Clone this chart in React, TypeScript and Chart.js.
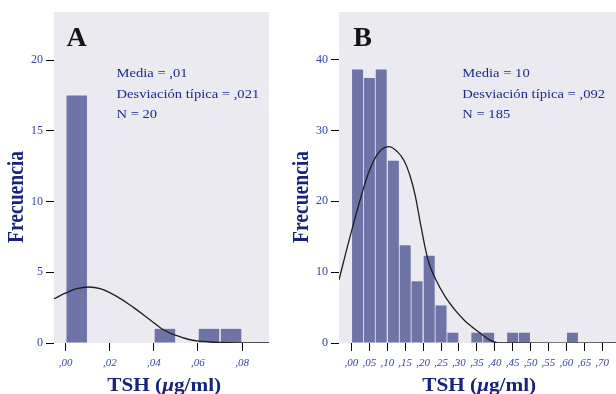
import React, { useEffect, useRef } from 'react';
import { Chart, registerables } from 'chart.js';

Chart.register(...registerables);

// ---------- Panel A data ----------
const binCentersA = [0.005, 0.045, 0.065, 0.075];
const countsA = [17.5, 1, 1, 1];
const curveXA = [-0.0053, 0.0001, 0.005, 0.0103, 0.0156, 0.0231, 0.0307, 0.0382, 0.0443, 0.0504, 0.0564, 0.0624, 0.0655, 0.0745, 0.0836, 0.0922];
const curveYA = [3.13, 3.54, 3.84, 3.96, 3.84, 3.3, 2.52, 1.65, 0.94, 0.52, 0.23, 0.11, 0.07, 0.02, 0, 0];
const xTicksA = [0, 0.02, 0.04, 0.06, 0.08];
const yTicksA = [0, 5, 10, 15, 20];
const statsA = ['Media = ,01', 'Desviación típica = ,021', 'N = 20'];

// ---------- Panel B data ----------
const binCentersB = [0.017, 0.05, 0.083, 0.117, 0.15, 0.183, 0.217, 0.25, 0.283, 0.35, 0.383, 0.45, 0.483, 0.617];
const countsB = [38.6, 37.4, 38.6, 25.7, 13.8, 8.7, 12.3, 5.3, 1.45, 1.45, 1.45, 1.45, 1.45, 1.45];
const curveXB = [-0.035, -0.004, 0.027, 0.05, 0.075, 0.103, 0.128, 0.148, 0.164, 0.178, 0.195, 0.215, 0.234, 0.262, 0.29, 0.317, 0.331, 0.359, 0.387, 0.406, 0.45, 0.74];
const curveYB = [8.9, 15.0, 20.7, 24.3, 26.8, 27.7, 27.0, 25.6, 23.5, 20.8, 16.2, 11.5, 9.1, 6.5, 4.6, 3.1, 2.5, 1.4, 0.4, 0.05, 0, 0];
const xTicksB = [0, 0.05, 0.1, 0.15, 0.2, 0.25, 0.3, 0.35, 0.4, 0.45, 0.5, 0.55, 0.6, 0.65, 0.7];
const yTicksB = [0, 10, 20, 30, 40];
const statsB = ['Media = 10', 'Desviación típica = ,092', 'N = 185'];

const yTitle = 'Frecuencia';
const xTitleParts = ['TSH (', 'μ', 'g/ml)'];

const SERIF = '"Liberation Serif", "Times New Roman", serif';
const BG = '#ebeaf0';
const BAR = '#6f74a6';
const LINE = '#1e1e1e';
const TICK_TXT = '#3444a2';
const STAT_TXT = '#1d2b8d';
const TITLE_TXT = '#17237c';

const bgPlugin = {
  id: 'panelBg',
  beforeDraw(chart: any) {
    const { ctx, chartArea } = chart;
    ctx.save();
    ctx.fillStyle = BG;
    ctx.fillRect(chartArea.left, chartArea.top, chartArea.right - chartArea.left, chartArea.bottom - chartArea.top);
    ctx.restore();
  },
};

const textPlugin = {
  id: 'panelText',
  afterDraw(chart: any, _args: any, p: any) {
    const ctx = chart.ctx;
    ctx.save();
    ctx.textAlign = 'left';
    ctx.textBaseline = 'alphabetic';
    // panel letter
    ctx.fillStyle = '#151515';
    ctx.font = `bold 28px ${SERIF}`;
    ctx.fillText(p.letter, p.letterX, p.letterY);
    // stats
    ctx.fillStyle = STAT_TXT;
    ctx.font = `12.8px ${SERIF}`;
    p.stats.forEach((s: string, i: number) => {
      ctx.save();
      ctx.translate(p.statsX, p.statsY + i * 20.5);
      ctx.scale(1.14, 1);
      ctx.fillText(s, 0, 0);
      ctx.restore();
    });
    // y title
    ctx.save();
    ctx.fillStyle = TITLE_TXT;
    ctx.font = `bold 19.6px ${SERIF}`;
    ctx.translate(p.yTitleX, p.yTitleY);
    ctx.scale(1.15, 1);
    ctx.rotate(-Math.PI / 2);
    ctx.textAlign = 'center';
    ctx.fillText(yTitle, 0, 0);
    ctx.restore();
    // x title with italic mu
    ctx.save();
    ctx.fillStyle = TITLE_TXT;
    const fB = `bold 19.5px ${SERIF}`;
    const fI = `italic bold 19.5px ${SERIF}`;
    ctx.font = fB;
    const w1 = ctx.measureText(xTitleParts[0]).width;
    const w3 = ctx.measureText(xTitleParts[2]).width;
    ctx.font = fI;
    const w2 = ctx.measureText(xTitleParts[1]).width;
    const total = w1 + w2 + w3;
    ctx.translate(p.xTitleX, p.xTitleY);
    ctx.scale(1.09, 1);
    let x = -total / 2;
    ctx.font = fB;
    ctx.fillText(xTitleParts[0], x, 0);
    x += w1;
    ctx.font = fI;
    ctx.fillText(xTitleParts[1], x, 0);
    x += w2;
    ctx.font = fB;
    ctx.fillText(xTitleParts[2], x, 0);
    ctx.restore();
    ctx.restore();
  },
};

const fmtX = (v: any) => {
  const s = Number(v).toFixed(2);
  return (s.startsWith('0') ? s.slice(1) : s).replace('.', ',');
};

type PanelCfg = {
  left: number; width: number; yWidth: number; padTop: number; padRight: number;
  xMin: number; xMax: number; yMax: number;
  bins: number[]; counts: number[]; cx: number[]; cy: number[];
  xTicks: number[]; yTicks: number[];
  text: any;
};

const panels: PanelCfg[] = [
  {
    left: 0, width: 290, yWidth: 54, padTop: 12, padRight: 21,
    xMin: -0.0053, xMax: 0.0922, yMax: 23.4,
    bins: binCentersA, counts: countsA, cx: curveXA, cy: curveYA,
    xTicks: xTicksA, yTicks: yTicksA,
    text: { letter: 'A', letterX: 66.5, letterY: 46, stats: statsA, statsX: 116.5, statsY: 77, yTitleX: 23.3, yTitleY: 197, xTitleX: 164.2, xTitleY: 391 },
  },
  {
    left: 290, width: 326, yWidth: 49, padTop: 12, padRight: 0,
    xMin: -0.0349, xMax: 0.7386, yMax: 46.7,
    bins: binCentersB, counts: countsB, cx: curveXB, cy: curveYB,
    xTicks: xTicksB, yTicks: yTicksB,
    text: { letter: 'B', letterX: 63.3, letterY: 46, stats: statsB, statsX: 172.3, statsY: 77, yTitleX: 18.3, yTitleY: 197, xTitleX: 189.2, xTitleY: 391 },
  },
];

function Panel({ cfg }: { cfg: PanelCfg }) {
  const ref = useRef<HTMLCanvasElement | null>(null);
  useEffect(() => {
    if (!ref.current) return;
    const chart = new Chart(ref.current, {
      type: 'bar',
      data: {
        datasets: [
          {
            type: 'line',
            data: cfg.cx.map((x, i) => ({ x, y: cfg.cy[i] })),
            borderColor: LINE,
            borderWidth: 1.3,
            pointRadius: 0,
            fill: false,
            tension: 0.4,
            order: 1,
          } as any,
          {
            type: 'bar',
            data: cfg.bins.map((x, i) => ({ x, y: cfg.counts[i] })),
            backgroundColor: BAR,
            borderWidth: 0,
            barPercentage: 0.93,
            categoryPercentage: 1,
            order: 2,
          } as any,
        ],
      },
      options: {
        responsive: false,
        animation: false,
        layout: { padding: { top: cfg.padTop, right: cfg.padRight, left: 0, bottom: 0 } },
        plugins: {
          legend: { display: false },
          tooltip: { enabled: false },
          panelText: cfg.text,
        } as any,
        scales: {
          x: {
            type: 'linear',
            min: cfg.xMin,
            max: cfg.xMax,
            offset: false,
            grid: { display: true, offset: false, drawOnChartArea: false, drawTicks: true, tickLength: 8, color: '#000', tickColor: '#000', tickWidth: 1 },
            border: { display: false },
            afterBuildTicks: (s: any) => { s.ticks = cfg.xTicks.map((v) => ({ value: v })); },
            afterFit: (s: any) => { s.height = 51; s.paddingLeft = 0; s.paddingRight = 0; },
            ticks: {
              autoSkip: false, maxRotation: 0, minRotation: 0, padding: 6,
              color: TICK_TXT,
              font: { family: SERIF, size: 11, style: 'italic' },
              callback: (v: any) => fmtX(v),
            },
          } as any,
          y: {
            type: 'linear',
            min: 0,
            max: cfg.yMax,
            grid: { display: true, drawOnChartArea: false, drawTicks: true, tickLength: 8, color: '#000', tickColor: '#000', tickWidth: 1 },
            border: { display: false },
            afterBuildTicks: (s: any) => { s.ticks = cfg.yTicks.map((v) => ({ value: v })); },
            afterFit: (s: any) => { s.width = cfg.yWidth; s.paddingTop = 0; s.paddingBottom = 0; },
            ticks: {
              autoSkip: false, padding: 3,
              color: TICK_TXT,
              font: { family: SERIF, size: 12 },
              callback: (v: any) => String(v),
            },
          } as any,
        },
      },
      plugins: [bgPlugin, textPlugin],
    } as any);
    return () => chart.destroy();
  }, [cfg]);
  return (
    <canvas
      ref={ref}
      width={cfg.width}
      height={394}
      style={{ position: 'absolute', left: cfg.left, top: 0, width: cfg.width, height: 394 }}
    />
  );
}

export default function App() {
  return (
    <div style={{ position: 'absolute', left: 0, top: 0, width: 616, height: 394, background: '#fff' }}>
      {panels.map((p, i) => (
        <Panel key={i} cfg={p} />
      ))}
    </div>
  );
}
